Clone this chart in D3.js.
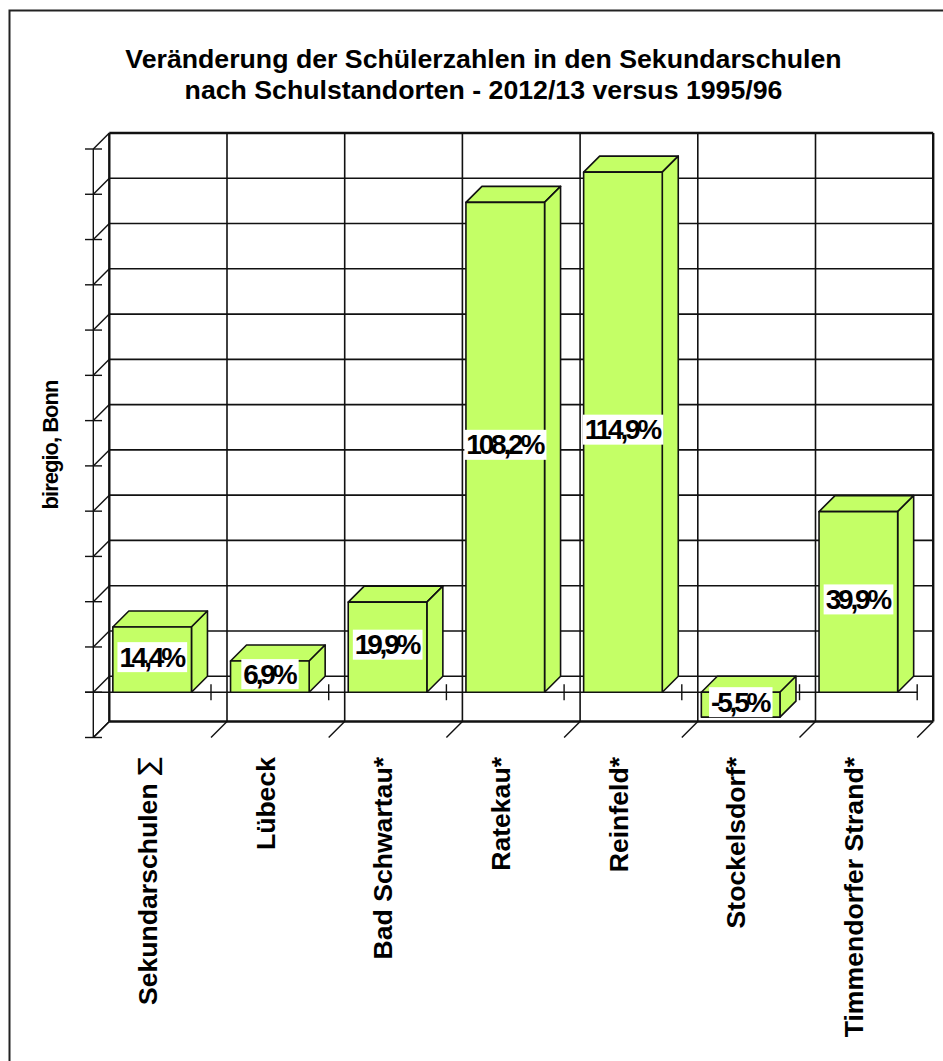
<!DOCTYPE html>
<html>
<head>
<meta charset="utf-8">
<script src="https://cdn.jsdelivr.net/npm/d3@7"></script>
<style>
html, body { margin: 0; padding: 0; background: #fff; }
svg { display: block; }
text { font-family: "Liberation Sans", Arial, sans-serif; font-weight: bold; fill: #000; }
</style>
</head>
<body>
<div id="chart"></div>
<script>
var categories = ["Sekundarschulen", "Lübeck", "Bad Schwartau*", "Ratekau*", "Reinfeld*", "Stockelsdorf*", "Timmendorfer Strand*"];
var values = [14.4, 6.9, 19.9, 108.2, 114.9, -5.5, 39.9];
var valueLabels = ["14,4%", "6,9%", "19,9%", "108,2%", "114,9%", "-5,5%", "39,9%"];
var titleLines = ["Veränderung der Schülerzahlen in den Sekundarschulen", "nach Schulstandorten - 2012/13 versus 1995/96"];
var yTicks = [-10, 0, 10, 20, 30, 40, 50, 60, 70, 80, 90, 100, 110, 120];

var w = 943;
var h = 1061;
var depth = 16;     // 3d offset of the back wall
var green = "#c4ff66";
var lineColor = "#111";

var svg = d3.select("#chart").append("svg")
	.attr("width", w)
	.attr("height", h);

// outer frame, runs off the page on the right and bottom
svg.append("rect")
	.attr("x", 9.5).attr("y", 10.5)
	.attr("width", 960).attr("height", 1080)
	.attr("fill", "#fff").attr("stroke", "#222").attr("stroke-width", 2);

svg.selectAll(".title").data(titleLines).enter().append("text")
	.attr("class", "title")
	.attr("x", 483.5)
	.attr("y", function(d, i) { return 68 + i * 31; })
	.attr("text-anchor", "middle")
	.style("font-size", "26.7px")
	.text(function(d) { return d; });

// scales are for the front plane
var x = d3.scaleBand().domain(d3.range(categories.length)).range([93.3, 917.2])
	.paddingInner(0.332).paddingOuter(0.166);
var y = d3.scaleLinear().domain([-10, 120]).range([737.5, 149]);
var step = x.step();
var xEdges = d3.range(categories.length + 1).map(function(i) { return 93.3 + i * step; });

// back wall
var wall = svg.append("g").attr("stroke", lineColor).attr("fill", "none").attr("stroke-width", 1.4);
wall.selectAll(".gridH").data(yTicks).enter().append("line")
	.attr("x1", 93.3 + depth).attr("x2", 917.2 + depth)
	.attr("y1", function(d) { return y(d) - depth; })
	.attr("y2", function(d) { return y(d) - depth; })
	.attr("stroke-width", function(d) { return d == 120 || d == -10 ? 2.4 : 1.6; });
wall.selectAll(".gridV").data(xEdges).enter().append("line")
	.attr("x1", function(d) { return d + depth; }).attr("x2", function(d) { return d + depth; })
	.attr("y1", y(120) - depth).attr("y2", y(-10) - depth)
	.attr("stroke-width", function(d, i) { return i == 0 || i == categories.length ? 2.4 : 1.6; });

// left side: diagonals and ticks
wall.selectAll(".diagY").data(yTicks).enter().append("line")
	.attr("x1", 93.3).attr("x2", 93.3 + depth)
	.attr("y1", function(d) { return y(d); })
	.attr("y2", function(d) { return y(d) - depth; });
wall.selectAll(".tickY").data(yTicks).enter().append("line")
	.attr("x1", 85).attr("x2", 102)
	.attr("y1", function(d) { return y(d); })
	.attr("y2", function(d) { return y(d); });
wall.append("line")
	.attr("x1", 93.3).attr("x2", 93.3)
	.attr("y1", y(120)).attr("y2", y(-10));

// bottom diagonals
wall.selectAll(".diagX").data(xEdges).enter().append("line")
	.attr("x1", function(d) { return d; }).attr("x2", function(d) { return d + depth; })
	.attr("y1", y(-10)).attr("y2", y(-10) - depth);

// front zero line and its ticks
wall.append("line")
	.attr("x1", 85).attr("x2", 917.2)
	.attr("y1", y(0)).attr("y2", y(0));
wall.selectAll(".tickX").data(xEdges.slice(1)).enter().append("line")
	.attr("x1", function(d) { return d; }).attr("x2", function(d) { return d; })
	.attr("y1", y(0) - 8).attr("y2", y(0) + 8);

// bars
var bars = svg.selectAll(".bar").data(values).enter().append("g")
	.attr("class", "bar")
	.attr("fill", green).attr("stroke", lineColor).attr("stroke-width", 1.6)
	.attr("stroke-linejoin", "round");

function barTop(d) { return y(Math.max(d, 0)); }
function barBottom(d) { return y(Math.min(d, 0)); }

// top face
bars.append("polygon").attr("points", function(d, i) {
	var l = x(i), r = l + x.bandwidth(), t = barTop(d);
	return [[l, t], [r, t], [r + depth, t - depth], [l + depth, t - depth]].join(" ");
});
// side face
bars.append("polygon").attr("points", function(d, i) {
	var r = x(i) + x.bandwidth(), t = barTop(d), b = barBottom(d);
	return [[r, t], [r + depth, t - depth], [r + depth, b - depth], [r, b]].join(" ");
});
// front face
bars.append("rect")
	.attr("x", function(d, i) { return x(i); })
	.attr("y", function(d) { return barTop(d); })
	.attr("width", x.bandwidth())
	.attr("height", function(d) { return barBottom(d) - barTop(d); });

// value labels on white boxes
var labels = svg.selectAll(".valueLabel").data(values).enter().append("g").attr("class", "valueLabel");
labels.append("text")
	.attr("x", function(d, i) { return x(i) + x.bandwidth() / 2 - 1; })
	.attr("y", function(d) { return (barTop(d) + barBottom(d)) / 2 + 7; })
	.attr("text-anchor", "middle")
	.style("font-size", "28px")
	.style("letter-spacing", "-3.2px")
	.text(function(d, i) { return valueLabels[i]; });
labels.insert("rect", "text")
	.attr("fill", "#fff")
	.each(function() {
		var b = this.parentNode.querySelector("text").getBBox();
		d3.select(this)
			.attr("x", b.x - 2).attr("width", b.width + 3)
			.attr("y", b.y + b.height / 2 - 15).attr("height", 30);
	});

// category labels
var catText = svg.selectAll(".cat").data(categories).enter().append("text")
	.attr("class", "cat")
	.attr("text-anchor", "end")
	.attr("transform", function(d, i) {
		return "translate(" + (x(i) + x.bandwidth() / 2 + 4.8) + ",757) rotate(-90)";
	})
	.style("font-size", "26.6px")
	.text(function(d) { return d; });
catText.filter(function(d, i) { return i == 0; })
	.append("tspan")
	.style("font-weight", "normal")
	.style("font-family", "DejaVu Sans")
	.text(" ∑");

svg.append("text")
	.attr("text-anchor", "middle")
	.attr("transform", "translate(58,445) rotate(-90)")
	.style("font-size", "22px")
	.style("letter-spacing", "-1px")
	.text("biregio, Bonn");
</script>
</body>
</html>
